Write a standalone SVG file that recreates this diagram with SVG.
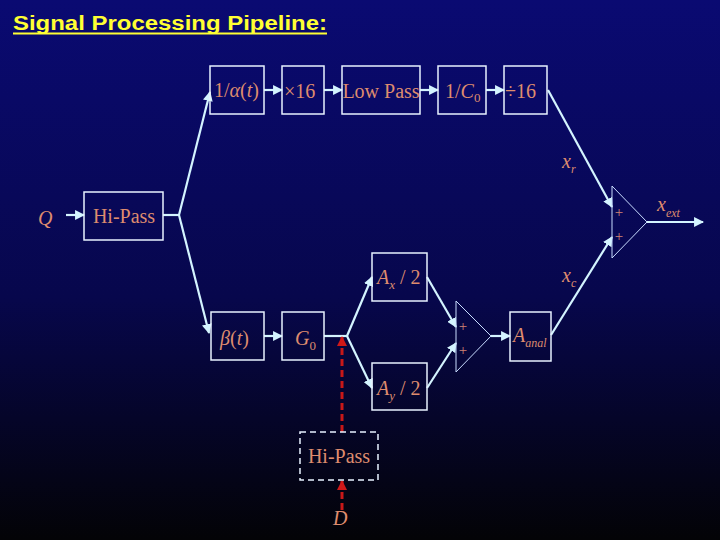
<svg xmlns="http://www.w3.org/2000/svg" width="720" height="540" viewBox="0 0 720 540">
<defs>
<linearGradient id="bg" x1="0" y1="0" x2="0" y2="1">
<stop offset="0" stop-color="#0a0a72"/>
<stop offset="0.55" stop-color="#07074c"/>
<stop offset="1" stop-color="#030306"/>
</linearGradient>
<marker id="ah" viewBox="0 0 10 10" refX="9" refY="5" markerWidth="4.5" markerHeight="4.5" orient="auto" markerUnits="strokeWidth">
<path d="M0,0 L10,5 L0,10 z" fill="#d4f4ff"/>
</marker>
<marker id="ahr" viewBox="0 0 10 10" refX="9" refY="5" markerWidth="3.5" markerHeight="3.5" orient="auto" markerUnits="strokeWidth">
<path d="M0,0 L10,5 L0,10 z" fill="#d01818"/>
</marker>
</defs>
<style>
.box{fill:none;stroke:#e8f2ff;stroke-width:1.5}
.dbox{fill:none;stroke:#e8f2ff;stroke-width:1.5;stroke-dasharray:6,4}
.tri{fill:none;stroke:#c8dcff;stroke-width:1}
.c{fill:none;stroke:#d4f4ff;stroke-width:2.2;marker-end:url(#ah)}
.cn{fill:none;stroke:#d4f4ff;stroke-width:2.2}
.r{fill:none;stroke:#c81818;stroke-width:3;stroke-dasharray:7,4;marker-end:url(#ahr)}
.t{font-family:"Liberation Serif","Times New Roman",serif;fill:#de8c6e;font-size:20px}
.i{font-style:italic}
.p{font-family:"Liberation Serif",serif;fill:#d08474;font-size:15px}
</style>
<rect width="720" height="540" fill="url(#bg)"/>
<text x="13" y="30" font-family="Liberation Sans,Arial,sans-serif" font-weight="bold" font-size="20" fill="#ffff33" textLength="314" lengthAdjust="spacingAndGlyphs">Signal Processing Pipeline:</text>
<rect x="13" y="32.5" width="314" height="2" fill="#ffff33"/>

<g id="connectors">
<path class="c" d="M264,90 L282,90"/>
<path class="c" d="M324,90 L342,90"/>
<path class="c" d="M420,90 L438,90"/>
<path class="c" d="M486,90 L504,90"/>
<path class="c" d="M66,215 L84,215"/>
<path class="cn" d="M163,215 L179,215"/>
<path class="c" d="M179,215 L210,92"/>
<path class="c" d="M179,215 L209,333"/>
<path class="c" d="M264,336 L282,336"/>
<path class="cn" d="M324,336 L347,336"/>
<path class="c" d="M347,336 L372,277"/>
<path class="c" d="M347,336 L372,388"/>
<path class="c" d="M427,277 L456,327"/>
<path class="c" d="M427,388 L456,343"/>
<path class="c" d="M491,336 L510,336"/>
<path class="c" d="M548,90 L612,207"/>
<path class="c" d="M551,335 L612,237"/>
<path class="c" d="M647,222 L703,222"/>
<path class="r" d="M342,432 L342,337"/>
<path class="r" d="M342,510 L342,481"/>
</g>

<g id="n-alpha"><rect class="box" x="210" y="66" width="54" height="48"/>
<text class="t" x="214" y="97" font-size="18">1/<tspan class="i">α</tspan>(<tspan class="i">t</tspan>)</text></g>
<g id="n-x16"><rect class="box" x="282" y="66" width="42" height="48"/>
<text class="t" x="284" y="98" font-size="22">×16</text></g>
<g id="n-lowpass"><rect class="box" x="342" y="66" width="78" height="48"/>
<text class="t" x="381" y="98" text-anchor="middle" font-size="19">Low Pass</text></g>
<g id="n-c0"><rect class="box" x="438" y="66" width="48" height="48"/>
<text class="t" x="445" y="98" font-size="20">1/<tspan class="i">C</tspan><tspan font-size="13" dy="4">0</tspan></text></g>
<g id="n-div16"><rect class="box" x="504" y="66" width="43" height="48"/>
<text class="t" x="505" y="98" font-size="22">÷16</text></g>

<g id="n-q"><text class="t i" x="38" y="225" font-size="22">Q</text></g>
<g id="n-hipass"><rect class="box" x="84" y="192" width="79" height="48"/>
<text class="t" x="124" y="223" text-anchor="middle">Hi-Pass</text></g>

<g id="n-beta"><rect class="box" x="211" y="312" width="53" height="48"/>
<text class="t" x="220" y="345" font-size="22"><tspan class="i">β</tspan>(<tspan class="i">t</tspan>)</text></g>
<g id="n-g0"><rect class="box" x="282" y="312" width="42" height="48"/>
<text class="t" x="295" y="345" font-size="20"><tspan class="i">G</tspan><tspan font-size="13" dy="5">0</tspan></text></g>
<g id="n-ax"><rect class="box" x="372" y="253" width="55" height="48"/>
<text class="t" x="377" y="284" font-size="20"><tspan class="i">A</tspan><tspan class="i" font-size="13" dy="5">x</tspan><tspan dy="-5"> / 2</tspan></text></g>
<g id="n-ay"><rect class="box" x="372" y="363" width="55" height="47"/>
<text class="t" x="377" y="395" font-size="20"><tspan class="i">A</tspan><tspan class="i" font-size="13" dy="5">y</tspan><tspan dy="-5"> / 2</tspan></text></g>

<g id="n-sum2"><path class="tri" d="M456,301 L491,336 L456,372 z"/>
<text class="p" x="463" y="331" text-anchor="middle">+</text>
<text class="p" x="463" y="355" text-anchor="middle">+</text></g>
<g id="n-aanal"><rect class="box" x="510" y="312" width="41" height="49"/>
<text class="t" x="513" y="342" font-size="21"><tspan class="i">A</tspan><tspan class="i" font-size="12" dy="5">anal</tspan></text></g>

<g id="n-sum1"><path class="tri" d="M612,186 L647,222 L612,258 z"/>
<text class="p" x="619" y="217" text-anchor="middle">+</text>
<text class="p" x="619" y="241" text-anchor="middle">+</text></g>

<g id="l-xr"><text class="t i" x="562" y="168" font-size="20">x<tspan font-size="12" dy="5">r</tspan></text></g>
<g id="l-xc"><text class="t i" x="562" y="282" font-size="20">x<tspan font-size="12" dy="5">c</tspan></text></g>
<g id="l-xext"><text class="t i" x="657" y="211" font-size="20">x<tspan font-size="12" dy="6">ext</tspan></text></g>

<g id="n-hipass2"><rect class="dbox" x="300" y="432" width="78" height="48"/>
<text class="t" x="339" y="463" text-anchor="middle" font-size="19">Hi-Pass</text></g>
<g id="n-d"><text class="t i" x="333" y="525" font-size="20">D</text></g>
</svg>
